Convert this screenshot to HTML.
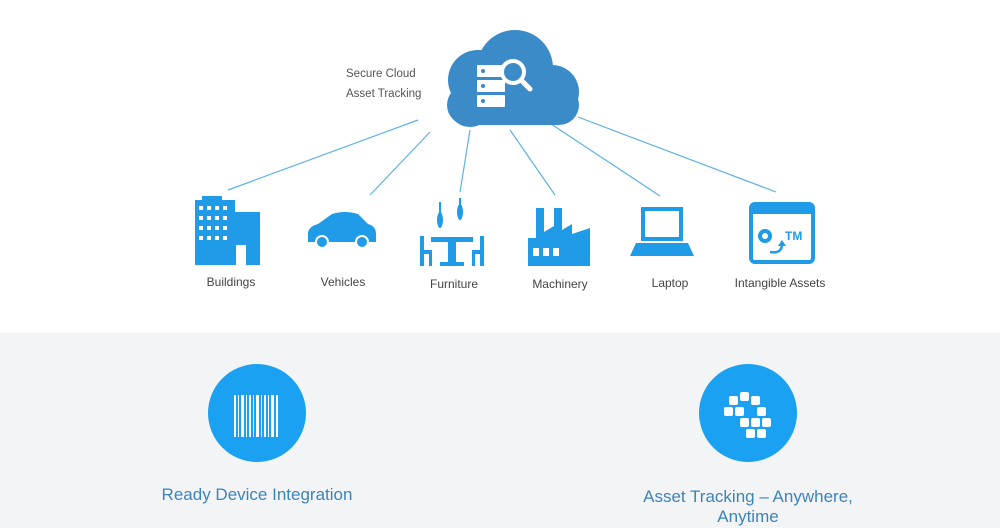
<!DOCTYPE html>
<html><head><style>
body{margin:0;width:1000px;height:528px;overflow:hidden;background:#fff;font-family:"Liberation Sans",sans-serif;position:relative}
.gray{position:absolute;left:0;top:333px;width:1000px;height:195px;background:#f3f4f5}
.lbl{position:absolute;font-size:12px;color:#444;text-align:center;width:140px}
.c{position:absolute;width:98px;height:98px;border-radius:50%;background:#1ba1f2}
.t{position:absolute;font-size:17px;color:#3d84b8;text-align:center;width:300px;line-height:20px}
</style></head><body>
<div class="gray"></div>
<svg width="1000" height="333" style="position:absolute;left:0;top:0">
<g stroke="#5fb3e3" stroke-width="1.2">
<line x1="418" y1="120" x2="228" y2="190"/>
<line x1="430" y1="132" x2="370" y2="195"/>
<line x1="470" y1="130" x2="460" y2="192"/>
<line x1="510" y1="130" x2="555" y2="195"/>
<line x1="545" y1="120" x2="660" y2="196"/>
<line x1="578" y1="117" x2="776" y2="192"/>
</g>
<g fill="#3b8bc9">
<circle cx="515" cy="68" r="38"/>
<circle cx="478" cy="80" r="30"/>
<circle cx="552" cy="92" r="27"/>
<rect x="447" y="85" width="132" height="40" rx="20"/>
<circle cx="470" cy="105" r="22"/>
</g>
<g fill="#fff">
<rect x="477" y="65" width="28" height="12" rx="1"/>
<rect x="477" y="80" width="28" height="12" rx="1"/>
<rect x="477" y="95" width="28" height="12" rx="1"/>
</g>
<g fill="#3b8bc9"><circle cx="483" cy="71" r="2"/><circle cx="483" cy="86" r="2"/><circle cx="483" cy="101" r="2"/></g>
<circle cx="513" cy="72" r="11" fill="#3b8bc9" stroke="#fff" stroke-width="4"/>
<line x1="521" y1="80" x2="530" y2="89" stroke="#fff" stroke-width="5" stroke-linecap="round"/>
<g fill="#1f9be8">
<rect x="195" y="200" width="40" height="65"/>
<rect x="228" y="212" width="32" height="53"/>
<rect x="202" y="196" width="20" height="6"/>
<path d="M308 232 Q310 226 318 224 L332 214 Q345 210 358 214 L368 224 Q376 226 376 234 L376 242 L308 242 Z"/>
<circle cx="322" cy="242" r="6" stroke="#fff" stroke-width="2"/><circle cx="362" cy="242" r="6" stroke="#fff" stroke-width="2"/>
<rect x="431" y="237" width="42" height="5"/><rect x="448" y="242" width="8" height="24"/><rect x="440" y="262" width="24" height="4"/>
<rect x="420" y="236" width="4" height="30"/><rect x="420" y="250" width="12" height="4"/><rect x="429" y="250" width="3" height="16"/>
<rect x="480" y="236" width="4" height="30"/><rect x="472" y="250" width="12" height="4"/><rect x="472" y="250" width="3" height="16"/>
<rect x="439" y="202" width="2" height="12"/><ellipse cx="440" cy="220" rx="3" ry="8"/>
<rect x="459" y="198" width="2" height="8"/><ellipse cx="460" cy="212" rx="3" ry="8"/>
<path d="M528 266 L528 238 L536 238 L536 208 L544 208 L544 232 L554 226 L554 208 L562 208 L562 230 L572 224 L572 234 L590 228 L590 266 Z"/>
<rect x="643" y="209" width="38" height="30" fill="none" stroke="#1f9be8" stroke-width="4"/>
<path d="M636 243 L688 243 L694 256 L630 256 Z"/>
<rect x="751" y="204" width="62" height="58" rx="4" fill="none" stroke="#1f9be8" stroke-width="4"/>
<rect x="751" y="204" width="62" height="10"/>
<circle cx="765" cy="236" r="7"/>
</g>
<circle cx="765" cy="236" r="3" fill="#fff"/>
<text x="785" y="240" font-family="Liberation Sans" font-size="12" fill="#1f9be8" font-weight="bold">TM</text>
<path d="M770 252 Q782 254 782 244" stroke="#1f9be8" stroke-width="2.5" fill="none"/>
<path d="M778 246 L782 240 L786 246 Z" fill="#1f9be8"/>
<g fill="#fff"><rect x="199" y="206" width="4" height="4"/><rect x="207" y="206" width="4" height="4"/><rect x="215" y="206" width="4" height="4"/><rect x="223" y="206" width="4" height="4"/>
<rect x="199" y="216" width="4" height="4"/><rect x="207" y="216" width="4" height="4"/><rect x="215" y="216" width="4" height="4"/><rect x="223" y="216" width="4" height="4"/>
<rect x="199" y="226" width="4" height="4"/><rect x="207" y="226" width="4" height="4"/><rect x="215" y="226" width="4" height="4"/><rect x="223" y="226" width="4" height="4"/>
<rect x="199" y="236" width="4" height="4"/><rect x="207" y="236" width="4" height="4"/><rect x="215" y="236" width="4" height="4"/><rect x="223" y="236" width="4" height="4"/>
<rect x="236" y="245" width="10" height="20"/>
<rect x="533" y="248" width="6" height="8"/><rect x="543" y="248" width="6" height="8"/><rect x="553" y="248" width="6" height="8"/></g>
<text x="346" y="77" font-family="Liberation Sans" font-size="11.5" fill="#555">Secure Cloud</text>
<text x="346" y="97" font-family="Liberation Sans" font-size="11.5" fill="#555">Asset Tracking</text>
</svg>
<div class="lbl" style="left:161px;top:275px">Buildings</div>
<div class="lbl" style="left:273px;top:275px">Vehicles</div>
<div class="lbl" style="left:384px;top:277px">Furniture</div>
<div class="lbl" style="left:490px;top:277px">Machinery</div>
<div class="lbl" style="left:600px;top:276px">Laptop</div>
<div class="lbl" style="left:710px;top:276px">Intangible Assets</div>
<div class="c" style="left:208px;top:364px"></div>
<div class="c" style="left:699px;top:364px"></div>
<svg width="1000" height="528" style="position:absolute;left:0;top:0">
<g fill="#fff">
<rect x="234" y="395" width="2" height="42"/><rect x="238" y="395" width="1" height="42"/><rect x="241" y="395" width="3" height="42"/><rect x="246" y="395" width="1" height="42"/><rect x="249" y="395" width="2" height="42"/><rect x="253" y="395" width="1" height="42"/><rect x="256" y="395" width="3" height="42"/><rect x="261" y="395" width="1" height="42"/><rect x="264" y="395" width="2" height="42"/><rect x="268" y="395" width="1" height="42"/><rect x="271" y="395" width="3" height="42"/><rect x="276" y="395" width="2" height="42"/>
<rect x="729" y="396" width="9" height="9" rx="2"/><rect x="740" y="392" width="9" height="9" rx="2"/><rect x="751" y="396" width="9" height="9" rx="2"/>
<rect x="724" y="407" width="9" height="9" rx="2"/><rect x="735" y="407" width="9" height="9" rx="2"/><rect x="757" y="407" width="9" height="9" rx="2"/>
<rect x="740" y="418" width="9" height="9" rx="2"/><rect x="751" y="418" width="9" height="9" rx="2"/><rect x="762" y="418" width="9" height="9" rx="2"/>
<rect x="746" y="429" width="9" height="9" rx="2"/><rect x="757" y="429" width="9" height="9" rx="2"/>
</g></svg>
<div class="t" style="left:107px;top:485px">Ready Device Integration</div>
<div class="t" style="left:598px;top:487px">Asset Tracking – Anywhere,<br>Anytime</div>
</body></html>
